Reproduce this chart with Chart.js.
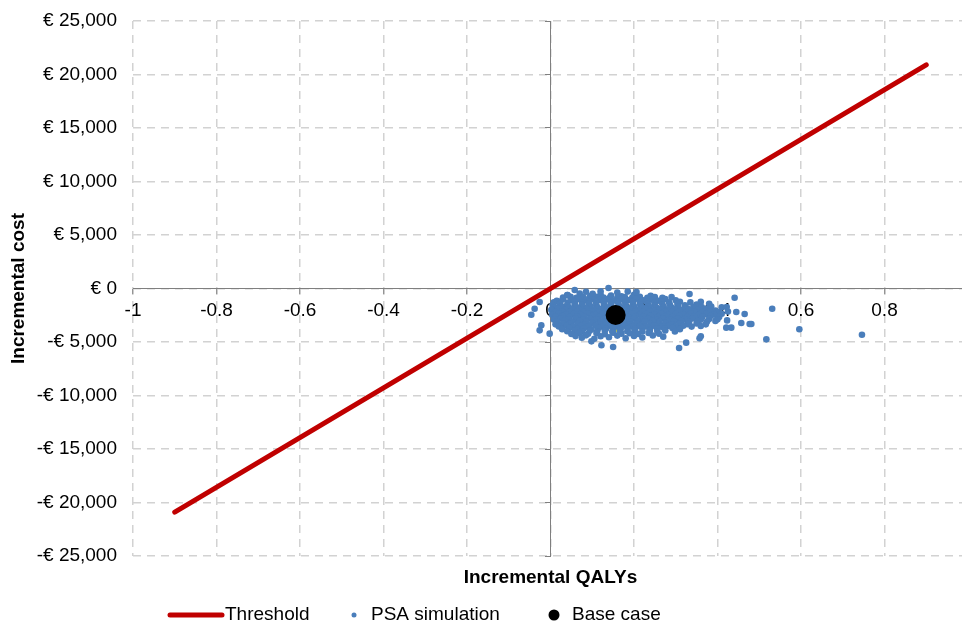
<!DOCTYPE html>
<html>
<head>
<meta charset="utf-8">
<script src="https://cdn.jsdelivr.net/npm/chart.js@4/dist/chart.umd.min.js"></script>
<style>
  html, body { margin: 0; padding: 0; background: #fff; overflow: hidden; }
</style>
</head>
<body>
<canvas id="ce" width="978" height="626"></canvas>
<script>
// Cost-effectiveness plane: threshold line, PSA cloud, base case
const thresholdQaly = [-0.9, 0.9];
const thresholdCost = [-20900, 20900];

const baseCase = [0.156, -2480];
const psaMean = [0.163, -3650];

// PSA simulation points [incremental QALY, incremental cost]
const psaPoints = [
  [0.085,-300],[0.12,-250],[0.16,-380],[0.185,-290],
  [0.04,-620],[0.07,-480],[0.095,-700],[0.12,-560],[0.145,-650],[0.17,-720],[0.2,-600],[0.24,-690],
  [0.03,-850],[0.048,-780],[0.062,-870],[0.078,-800],[0.093,-860],[0.109,-770],[0.127,-840],[0.143,-800],
  [0.16,-880],[0.178,-790],[0.196,-850],[0.214,-780],[0.232,-870],[0.25,-810],[0.268,-860],[0.29,-790],
  [0.015,-1150],[0.03,-980],[0.05,-1080],[0.066,-1010],[0.085,-1120],[0.1,-950],[0.118,-1060],[0.135,-1000],
  [0.152,-1130],[0.17,-990],[0.188,-1070],[0.205,-960],[0.222,-1110],[0.24,-1030],[0.258,-1150],[0.275,-980],[0.3,-1100],
  [0.008,-1300],[0.024,-1230],[0.041,-1310],[0.058,-1250],[0.076,-1290],[0.093,-1220],[0.109,-1320],[0.127,-1240],
  [0.144,-1300],[0.161,-1230],[0.179,-1310],[0.197,-1250],[0.214,-1290],[0.231,-1220],[0.249,-1320],[0.266,-1250],
  [0.284,-1290],[0.31,-1240],[0.335,-1300],[0.36,-1250],
  [0.005,-1550],[0.022,-1450],[0.04,-1560],[0.058,-1480],[0.075,-1530],[0.092,-1420],[0.11,-1560],[0.128,-1470],
  [0.145,-1540],[0.163,-1440],[0.18,-1580],[0.198,-1490],[0.215,-1530],[0.233,-1420],[0.25,-1570],[0.268,-1480],
  [0.286,-1530],[0.304,-1460],[0.322,-1580],[0.35,-1500],[0.38,-1420],
  [0.01,-1750],[0.027,-1680],[0.044,-1760],[0.061,-1700],[0.079,-1740],[0.096,-1670],[0.113,-1770],[0.131,-1690],
  [0.148,-1750],[0.166,-1680],[0.184,-1760],[0.201,-1700],[0.219,-1740],[0.236,-1670],[0.254,-1770],[0.271,-1690],
  [0.289,-1750],[0.306,-1680],[0.324,-1760],[0.343,-1700],[0.362,-1740],[0.385,-1680],[0.41,-1760],
  [0.002,-2000],[0.018,-1900],[0.035,-2010],[0.052,-1920],[0.07,-1980],[0.087,-1890],[0.104,-2020],[0.122,-1930],
  [0.14,-1990],[0.157,-1880],[0.175,-2030],[0.192,-1950],[0.21,-1990],[0.227,-1900],[0.245,-2040],[0.262,-1940],
  [0.28,-1980],[0.297,-1890],[0.315,-2020],[0.333,-1950],[0.352,-2010],[0.372,-1900],[0.395,-2050],
  [0.011,-2200],[0.028,-2130],[0.046,-2210],[0.063,-2150],[0.08,-2190],[0.098,-2120],[0.116,-2220],[0.133,-2140],
  [0.15,-2200],[0.168,-2130],[0.186,-2210],[0.203,-2150],[0.221,-2190],[0.238,-2120],[0.256,-2220],[0.274,-2140],
  [0.291,-2200],[0.308,-2130],[0.326,-2210],[0.344,-2150],[0.363,-2190],[0.382,-2120],[0.403,-2210],[0.425,-2150],
  [0.004,-2450],[0.02,-2350],[0.037,-2440],[0.055,-2380],[0.072,-2460],[0.09,-2340],[0.107,-2420],[0.125,-2390],
  [0.142,-2470],[0.16,-2360],[0.178,-2430],[0.195,-2350],[0.213,-2450],[0.23,-2380],[0.248,-2420],[0.265,-2340],
  [0.283,-2460],[0.3,-2390],[0.318,-2430],[0.336,-2350],[0.355,-2470],[0.373,-2380],[0.392,-2440],[0.41,-2360],
  [0.012,-2650],[0.029,-2580],[0.046,-2660],[0.064,-2600],[0.081,-2640],[0.099,-2570],[0.116,-2670],[0.134,-2590],
  [0.151,-2650],[0.169,-2580],[0.187,-2660],[0.204,-2600],[0.222,-2640],[0.239,-2570],[0.257,-2670],[0.274,-2590],
  [0.292,-2650],[0.309,-2580],[0.327,-2660],[0.345,-2600],[0.364,-2640],[0.383,-2570],[0.404,-2660],
  [0.008,-2900],[0.025,-2800],[0.042,-2880],[0.06,-2820],[0.077,-2910],[0.095,-2790],[0.112,-2870],[0.13,-2830],
  [0.147,-2900],[0.165,-2800],[0.182,-2880],[0.2,-2810],[0.217,-2920],[0.235,-2840],[0.252,-2870],[0.27,-2790],
  [0.287,-2900],[0.305,-2830],[0.322,-2880],[0.34,-2800],[0.36,-2910],[0.38,-2840],[0.4,-2880],
  [0.016,-3100],[0.034,-3030],[0.051,-3110],[0.069,-3050],[0.086,-3090],[0.104,-3020],[0.121,-3120],[0.139,-3040],
  [0.156,-3100],[0.174,-3030],[0.191,-3110],[0.209,-3050],[0.226,-3090],[0.244,-3020],[0.261,-3120],[0.279,-3040],
  [0.296,-3100],[0.314,-3030],[0.332,-3110],[0.352,-3050],[0.375,-3090],[0.395,-3030],
  [0.012,-3350],[0.03,-3250],[0.047,-3330],[0.065,-3270],[0.082,-3360],[0.1,-3240],[0.117,-3320],[0.135,-3280],
  [0.152,-3350],[0.17,-3260],[0.187,-3340],[0.205,-3250],[0.222,-3370],[0.24,-3290],[0.257,-3320],[0.275,-3240],
  [0.292,-3360],[0.31,-3280],[0.328,-3330],[0.35,-3260],[0.372,-3350],
  [0.02,-3550],[0.038,-3480],[0.055,-3560],[0.073,-3500],[0.09,-3540],[0.108,-3470],[0.125,-3570],[0.143,-3490],
  [0.16,-3550],[0.178,-3480],[0.195,-3560],[0.213,-3500],[0.23,-3540],[0.248,-3470],[0.265,-3570],[0.283,-3490],
  [0.3,-3550],[0.318,-3480],[0.338,-3560],[0.36,-3500],
  [0.028,-3800],[0.045,-3700],[0.063,-3780],[0.08,-3720],[0.098,-3810],[0.115,-3690],[0.133,-3770],[0.15,-3730],
  [0.168,-3800],[0.185,-3710],[0.203,-3790],[0.22,-3700],[0.238,-3820],[0.255,-3740],[0.273,-3770],[0.292,-3690],[0.31,-3800],
  [0.04,-4000],[0.058,-3930],[0.076,-4010],[0.094,-3950],[0.112,-3990],[0.13,-3920],[0.148,-4020],[0.166,-3940],
  [0.184,-4000],[0.202,-3930],[0.22,-4010],[0.238,-3950],[0.256,-3990],[0.275,-3920],[0.298,-4010],
  [0.05,-4250],[0.07,-4150],[0.09,-4230],[0.11,-4170],[0.13,-4260],[0.15,-4140],[0.17,-4220],[0.19,-4180],
  [0.21,-4250],[0.235,-4160],[0.26,-4230],
  [0.06,-4450],[0.085,-4380],[0.12,-4460],[0.16,-4400],[0.2,-4440],[0.245,-4390],
  [0.075,-4600],[0.105,-4700],[0.14,-4550],[0.18,-4650],[0.22,-4580],[0.27,-4500],
  // scattered outliers
  [0.139,50],[0.058,-140],[0.041,-610],[0.101,-490],[0.206,-330],[0.333,-520],
  [-0.046,-2450],[-0.038,-1890],[-0.026,-1260],[-0.022,-3440],[-0.026,-3910],[-0.002,-4220],
  [0.15,-5470],[0.122,-5310],[0.098,-4940],[0.308,-5560],[0.325,-5060],[0.357,-4650],[0.36,-4470],
  [0.441,-860],[0.531,-1890],[0.465,-2380],[0.445,-2200],[0.457,-3220],[0.477,-3320],[0.481,-3320],
  [0.433,-3660],[0.421,-3660],[0.423,-2980],[0.422,-1730],[0.596,-3810],[0.517,-4750],[0.746,-4320]
];

const legendItems = ['Threshold', 'PSA simulation', 'Base case'];

const FONT = '"Liberation Sans", Arial, sans-serif';
Chart.defaults.font.family = FONT;
Chart.defaults.font.size = 19;
Chart.defaults.color = '#000';

const GRID = '#d2d2d2';
const AXIS = '#7f7f7f';
const DASH = [8, 6];

function euro(v) {
  if (v === 0) return '€ 0';
  return (v < 0 ? '-€ ' : '€ ') + Math.abs(v).toLocaleString('en-US');
}

// no extra label padding, so the plot area lands where it should
function noPad(s) {
  s.paddingLeft = 0; s.paddingRight = 0; s.paddingTop = 0; s.paddingBottom = 0;
}

// legend drawn at fixed slots like the spreadsheet original
const fixedLegend = {
  id: 'fixedLegend',
  afterDraw(chart) {
    const ctx = chart.ctx;
    const y = 615;
    ctx.save();
    ctx.font = '19px ' + FONT;
    ctx.fillStyle = '#000';
    ctx.textBaseline = 'middle';
    ctx.textAlign = 'left';
    ctx.strokeStyle = '#c00000';
    ctx.lineWidth = 5;
    ctx.lineCap = 'round';
    ctx.beginPath(); ctx.moveTo(170, y); ctx.lineTo(222, y); ctx.stroke();
    ctx.fillText(legendItems[0], 225, y);
    ctx.fillStyle = '#4a7ebb';
    ctx.beginPath(); ctx.arc(354, y, 2.5, 0, Math.PI * 2); ctx.fill();
    ctx.fillStyle = '#000';
    ctx.fillText(legendItems[1], 371, y);
    ctx.beginPath(); ctx.arc(554, y, 5.5, 0, Math.PI * 2); ctx.fill();
    ctx.fillText(legendItems[2], 572, y);
    ctx.restore();
  }
};

new Chart(document.getElementById('ce'), {
  type: 'scatter',
  data: {
    datasets: [
      {
        label: legendItems[2],
        data: [{ x: baseCase[0], y: baseCase[1] }],
        pointRadius: 10,
        pointBackgroundColor: '#000',
        pointBorderWidth: 0
      },
      {
        label: legendItems[1],
        data: psaPoints.map(p => ({ x: p[0], y: p[1] })),
        pointRadius: 3.3,
        pointBackgroundColor: '#4a7ebb',
        pointBorderWidth: 0
      },
      {
        label: 'PSA mean',
        data: [{ x: psaMean[0], y: psaMean[1] }],
        pointRadius: 5,
        pointBackgroundColor: '#f2f20a',
        pointBorderWidth: 0
      },
      {
        label: legendItems[0],
        data: thresholdQaly.map((q, i) => ({ x: q, y: thresholdCost[i] })),
        showLine: true,
        borderColor: '#c00000',
        borderWidth: 5,
        borderCapStyle: 'round',
        pointRadius: 0
      }
    ]
  },
  options: {
    responsive: false,
    devicePixelRatio: 1,
    animation: false,
    events: [],
    layout: { padding: { left: 0, right: 1, top: 21, bottom: 30 } },
    plugins: { legend: { display: false }, tooltip: { enabled: false } },
    scales: {
      x: {
        type: 'linear',
        position: { y: 0 },
        min: -1, max: 1,
        ticks: {
          stepSize: 0.2, autoSkip: false, maxRotation: 0, padding: 6,
          callback: v => String(Math.round(v * 10) / 10)
        },
        grid: { color: GRID, lineWidth: 1.5, drawTicks: true, tickLength: 5, tickColor: AXIS, tickWidth: 1, tickBorderDash: [] },
        border: { display: true, color: AXIS, width: 1, dash: DASH },
        afterFit: noPad
      },
      x2: {
        type: 'linear',
        position: 'bottom',
        min: -1, max: 1,
        ticks: { display: false },
        grid: { display: false },
        border: { display: false },
        title: { display: true, text: 'Incremental QALYs', font: { size: 19, weight: 'bold' }, padding: { top: 0, bottom: 7 } },
        afterFit: s => { s.height = 40; noPad(s); }
      },
      y: {
        type: 'linear',
        position: 'left',
        min: -25000, max: 25000,
        ticks: { stepSize: 5000, padding: 16, callback: v => euro(v) },
        grid: { color: GRID, lineWidth: 1.5, drawTicks: false },
        border: { display: false, dash: DASH },
        title: { display: true, text: 'Incremental cost', font: { size: 19, weight: 'bold' }, padding: { top: 7, bottom: 4 } },
        afterFit: s => { s.width = 133; noPad(s); }
      },
      y0: {
        type: 'linear',
        position: { x: 0 },
        min: -25000, max: 25000,
        ticks: { display: false, stepSize: 5000 },
        grid: { drawOnChartArea: false, drawTicks: true, tickLength: 5, tickColor: AXIS, tickWidth: 1, tickBorderDash: [] },
        border: { display: true, color: AXIS, width: 1 },
        afterFit: noPad
      }
    }
  },
  plugins: [fixedLegend]
});
</script>
</body>
</html>
